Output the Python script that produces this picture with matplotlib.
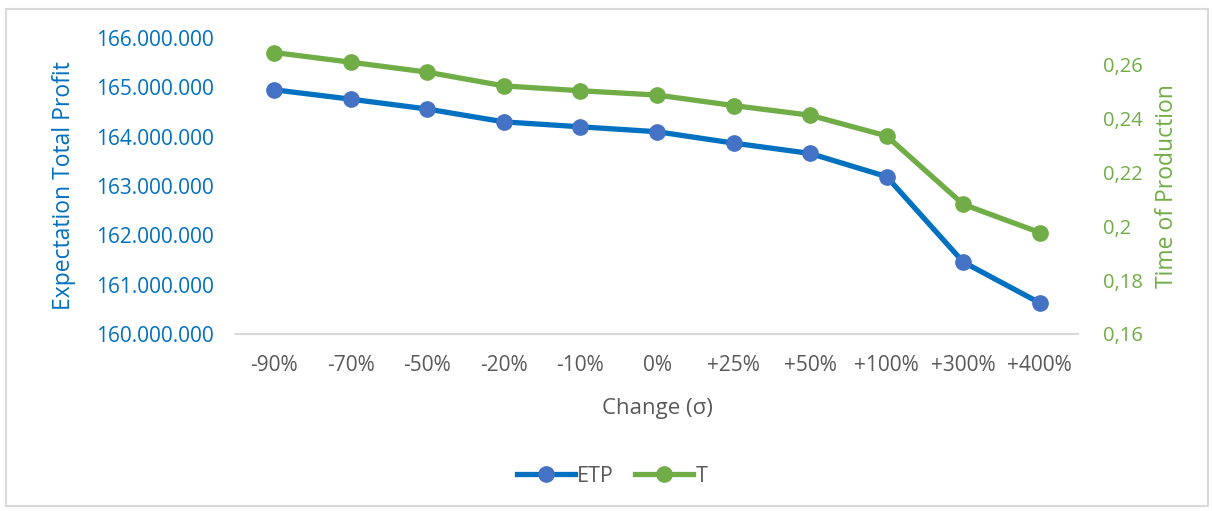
import matplotlib.pyplot as plt
from matplotlib.patches import Rectangle
from matplotlib.ticker import FuncFormatter
import numpy as np

plt.rcParams['font.family'] = ['Open Sans', 'DejaVu Sans']

changes = ['-90%', '-70%', '-50%', '-20%', '-10%', '0%', '+25%', '+50%', '+100%', '+300%', '+400%']
etp = [164950000, 164760000, 164560000, 164300000, 164200000, 164100000,
       163870000, 163660000, 163190000, 161460000, 160630000]
t_prod = [0.2646, 0.2610, 0.2573, 0.2522, 0.2504, 0.2488,
          0.2449, 0.2413, 0.2336, 0.2082, 0.1977]

blue_line = '#0070C0'
blue_marker = '#4472C4'
green = '#70AD47'
gray_text = '#595959'

W, H = 1213, 511
fig = plt.figure(figsize=(W / 100, H / 100), dpi=100)
ax = fig.add_axes([236 / W, 1 - 334 / H, (1078 - 236) / W, (334 - 38) / H])
ax2 = ax.twinx()

x = np.arange(len(changes))
ax.plot(x, etp, color=blue_line, lw=3.8, marker='o', ms=11,
        mfc=blue_marker, mec=blue_marker, label='ETP', zorder=3)
ax2.plot(x, t_prod, color=green, lw=3.8, marker='o', ms=11,
         mfc=green, mec=green, label='T', zorder=3)

ax.set_xlim(-0.5, len(changes) - 0.5)
ax.set_ylim(160000000, 166000000)
ax2.set_ylim(0.16, 0.27)
ax.set_yticks(np.arange(160000000, 166000001, 1000000))
ax2.set_yticks([0.16, 0.18, 0.20, 0.22, 0.24, 0.26])
ax.yaxis.set_major_formatter(FuncFormatter(lambda v, p: f'{int(v):,}'.replace(',', '.')))
ax2.yaxis.set_major_formatter(FuncFormatter(lambda v, p: f'{v:.2f}'.rstrip('0').replace('.', ',')))

ax.set_xticks(x)
ax.set_xticklabels(changes)

for a in (ax, ax2):
    for s in a.spines.values():
        s.set_visible(False)
    a.tick_params(length=0)
ax.spines['bottom'].set_visible(True)
ax.spines['bottom'].set_color('#D9D9D9')
ax.spines['bottom'].set_linewidth(1.5)

ax.tick_params(axis='y', colors=blue_line, labelsize=15, pad=16)
ax2.tick_params(axis='y', colors=green, labelsize=14.5, pad=18)
ax.tick_params(axis='x', colors=gray_text, labelsize=15, pad=15)

ax.set_ylabel('Expectation Total Profit', color=blue_line, fontsize=16.5, labelpad=14)
ax2.set_ylabel('Time of Production', color=green, fontsize=16.5, labelpad=9)
ax.set_xlabel('Change (σ)', color=gray_text, fontsize=16, labelpad=16)

h1, l1 = ax.get_legend_handles_labels()
h2, l2 = ax2.get_legend_handles_labels()
leg = fig.legend(h1 + h2, l1 + l2, loc='center', bbox_to_anchor=(612 / W, 1 - 476 / H),
                 ncol=2, frameon=False, fontsize=15.5, handlelength=2.7,
                 handletextpad=0.1, columnspacing=1.0, labelcolor=gray_text)

fig.patches.append(Rectangle((6 / W, 1 - 506 / H), 1202 / W, 497 / H,
                             transform=fig.transFigure, fill=False,
                             edgecolor='#D9D9D9', lw=1.5))

fig.savefig('out.png', dpi=100)
